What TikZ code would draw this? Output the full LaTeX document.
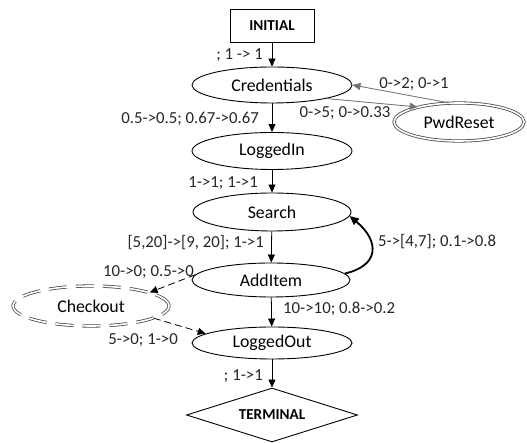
\documentclass[tikz,border=0pt]{standalone}
\usepackage{fontspec}
\setmainfont{Carlito}
\usetikzlibrary{shapes.geometric,arrows.meta}
\begin{document}
\begin{tikzpicture}[x=1pt,y=1pt,
  every node/.style={inner sep=0pt},
  st/.style={draw, ellipse, line width=0.9pt, font=\fontsize{17.8}{21}\selectfont},
  dbl/.style={draw=black!70, double=white, double distance=1.6pt, line width=0.8pt},
  lbl/.style={font=\fontsize{16.8}{20}\selectfont, text=black!85},
  arr/.style={-{Triangle[length=8pt,width=7pt]}, line width=0.8pt},
  garr/.style={arr, draw=black!55, fill=black!55},
  darr/.style={arr, dash pattern=on 7pt off 4pt}
]
\useasboundingbox (0,0) rectangle (527,443);
% nodes
\node[draw, line width=0.9pt, minimum width=84pt, minimum height=33pt, font=\fontsize{15.2}{18}\selectfont\bfseries] (init) at (272,417) {INITIAL};
\node[st, minimum width=160pt, minimum height=36pt] (cred) at (272,358) {Credentials};
\node[st, dbl, minimum width=130pt, minimum height=38pt] (pwd) at (459,321) {PwdReset};
\node[st, minimum width=160pt, minimum height=37pt] (login) at (272,292) {LoggedIn};
\node[st, minimum width=158pt, minimum height=38pt] (search) at (272,231) {Search};
\node[st, minimum width=158pt, minimum height=34pt] (add) at (271,163) {AddItem};
\node[st, dbl, dash pattern=on 18pt off 9pt, minimum width=156pt, minimum height=40pt] (check) at (91,137) {Checkout};
\node[st, minimum width=160pt, minimum height=32pt] (logout) at (272,100) {LoggedOut};
\node[draw, diamond, aspect=3.2, line width=0.9pt, minimum width=171pt, minimum height=54pt, font=\fontsize{15.2}{18}\selectfont\bfseries] (term) at (272,28) {TERMINAL};
% edges
\draw[arr] (init) -- (cred);
\draw[arr] (cred) -- (login);
\draw[arr] (login) -- (search);
\draw[arr] (search) -- (add);
\draw[arr] (add) -- (logout);
\draw[arr] (logout) -- (term);
\draw[garr] (cred.-14) -- (pwd.160);
\draw[garr] (pwd.118) -- (cred.east);
\draw[arr, line width=1.8pt, -{Triangle[length=9pt,width=8pt]}] (add.5) .. controls +(35,8) and +(30,-25) .. (search.-3);
\draw[darr] (add.176) -- (check.13);
\draw[darr] (check.-11) -- (logout.172);
% labels
\node[lbl, anchor=east] (l1) at (263,388) {; 1 -> 1};
\node[lbl, anchor=east] (l2) at (259,324) {0.5->0.5; 0.67->0.67};
\node[lbl] (l3) at (414,359) {0->2; 0->1};
\node[lbl] (l4) at (345,330) {0->5; 0->0.33};
\node[lbl, anchor=east] (l5) at (258,260) {1->1; 1->1};
\node[lbl, anchor=east] (l6) at (264,200) {[5,20]->[9, 20]; 1->1};
\node[lbl, anchor=west] (l7) at (378,201) {5->[4,7]; 0.1->0.8};
\node[lbl, anchor=east] (l8) at (194,171) {10->0; 0.5->0};
\node[lbl, anchor=west] (l9) at (283,134) {10->10; 0.8->0.2};
\node[lbl, anchor=east] (l10) at (178,103) {5->0; 1->0};
\node[lbl, anchor=east] (l11) at (263,67) {; 1->1};
\end{tikzpicture}
\end{document}
